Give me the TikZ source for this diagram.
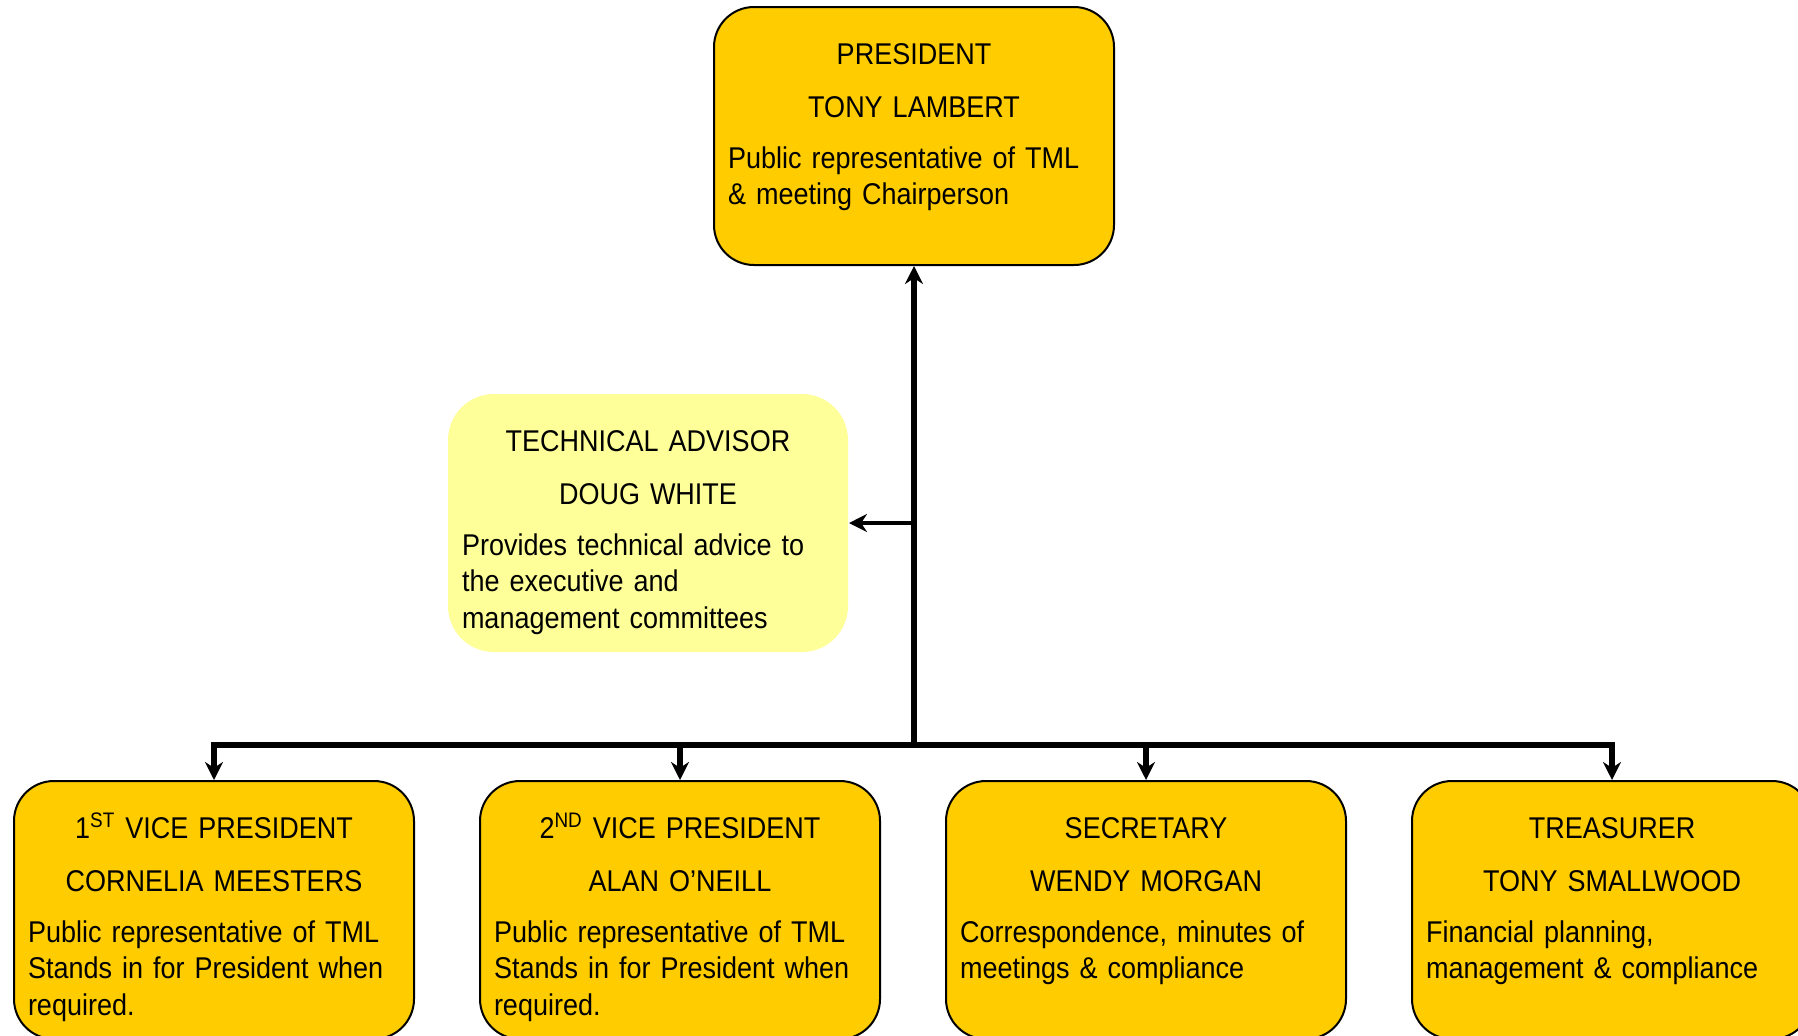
\documentclass[tikz,border=0pt]{standalone}
\usepackage{fontspec}
\setmainfont{Liberation Sans}[FakeStretch=0.9]
\usetikzlibrary{arrows.meta, positioning}

\definecolor{gold}{HTML}{FFCC00}
\definecolor{paleyellow}{HTML}{FFFF99}

% title, name, duties
\newcommand{\roletext}[3]{{\centering #1\\[8.25pt]#2\par}\vspace{7.25pt}{\raggedright #3\par}}

\begin{document}
\begin{tikzpicture}[
			x = 0.5pt, y = 0.5pt,
			nodes = {
				font = \fontsize{15pt}{18.25pt}\selectfont
			},
			role/.style={
				draw=black,
				line width=1pt,
				fill=gold,
				rounded corners=20pt,
				anchor=north west,
				inner xsep=7pt,
				inner ysep=0pt,
				text width=186pt,
				text height=28.5pt,
				text depth=100.5pt
			},
			advisor/.style={
				role,
				draw=none,
				fill=paleyellow,
				rounded corners=23pt
			},
			lines/.style={
				line width=2.75pt,
				>={Stealth[length=9pt,width=9pt]}
			}
		]
			\useasboundingbox (0,0) rectangle (1798,-1035);

			\node[role] (pres) at (713,-6) {\roletext{PRESIDENT}{TONY LAMBERT}{Public representative of TML\\ \& meeting Chairperson}};

			\node[advisor] (tech) at (447,-393) {\roletext{TECHNICAL ADVISOR}{DOUG WHITE}{Provides technical advice to\\ the executive and\\ management committees}};

			\node[role] (vp1) at (13,-780) {\roletext{1\textsuperscript{ST} VICE PRESIDENT}{CORNELIA MEESTERS}{Public representative of TML\\ Stands in for President when\\ required.}};
			\node[role] (vp2) [right=32pt of vp1] {\roletext{2\textsuperscript{ND} VICE PRESIDENT}{ALAN O’NEILL}{Public representative of TML\\ Stands in for President when\\ required.}};
			\node[role] (sec) [right=32pt of vp2] {\roletext{SECRETARY}{WENDY MORGAN}{Correspondence, minutes of\\ meetings \& compliance}};
			\node[role] (tres) [right=32pt of sec] {\roletext{TREASURER}{TONY SMALLWOOD}{Financial planning,\\ management \& compliance}};

			\coordinate (busy) at (0,-745);
			\coordinate (hub) at (pres.south |- busy);
			\coordinate (tap) at (pres.south |- tech.east);

			\draw[lines,->,line width=3pt] (hub) -- (pres.south);
			\draw[lines,->,line width=1.75pt] (tap) -- (tech.east);

			\foreach \n in {vp1,vp2,sec,tres}
				\draw[lines,->] (hub) -| (\n.north);

		\end{tikzpicture}
\end{document}
